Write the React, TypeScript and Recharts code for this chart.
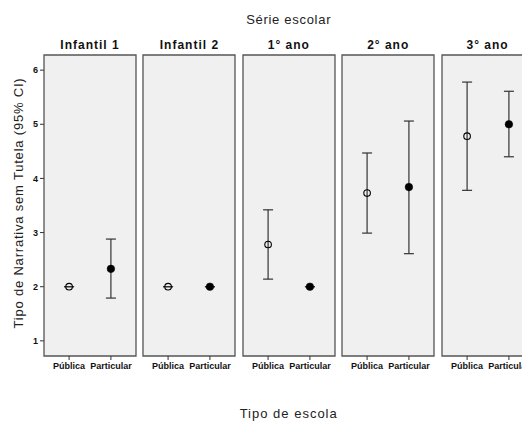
import React from 'react';
import { ScatterChart, Scatter, XAxis, YAxis, ErrorBar, ReferenceArea } from 'recharts';

const grades = ['Infantil 1', 'Infantil 2', '1° ano', '2° ano', '3° ano'];
const schoolTypes = ['Pública', 'Particular'];
const publicaMean = [2.0, 2.0, 2.78, 3.73, 4.78];
const publicaLow = [2.0, 2.0, 2.14, 2.99, 3.78];
const publicaHigh = [2.0, 2.0, 3.42, 4.47, 5.78];
const particularMean = [2.33, 2.0, 2.0, 3.84, 5.0];
const particularLow = [1.79, 2.0, 2.0, 2.61, 4.4];
const particularHigh = [2.88, 2.0, 2.0, 5.06, 5.61];
const yTicks = [1, 2, 3, 4, 5, 6];
const xTicks = [0, 1];

const FONT = '"Liberation Sans", Arial, Helvetica, sans-serif';
const Y_DOMAIN: [number, number] = [0.72, 6.28];
const X_DOMAIN: [number, number] = [-0.6, 1.6];
const PANEL_LEFT0 = 44;
const PANEL_STEP = 99.4;
const PANEL_W = 92;

function OpenDot(props: any) {
  const { cx, cy } = props;
  if (cx == null || cy == null) return null;
  return <circle cx={cx} cy={cy} r={3.3} fill="none" stroke="#000" strokeWidth={1.1} />;
}

function FilledDot(props: any) {
  const { cx, cy } = props;
  if (cx == null || cy == null) return null;
  return <circle cx={cx} cy={cy} r={3.8} fill="#000" stroke="#000" strokeWidth={0.5} />;
}

function Panel({ i }: { i: number }) {
  const first = i === 0;
  const pub = [{ x: 0, y: publicaMean[i], err: [publicaMean[i] - publicaLow[i], publicaHigh[i] - publicaMean[i]] }];
  const par = [{ x: 1, y: particularMean[i], err: [particularMean[i] - particularLow[i], particularHigh[i] - particularMean[i]] }];
  const yAxisW = first ? 44 : 0;
  const marginLeft = first ? 0 : 4;
  const width = marginLeft + yAxisW + PANEL_W + 4;
  const left = PANEL_LEFT0 + i * PANEL_STEP - yAxisW - marginLeft;
  return (
    <div style={{ position: 'absolute', left, top: 50 }}>
      <ScatterChart width={width} height={336} margin={{ top: 5, right: 4, bottom: 0, left: marginLeft }}>
        <XAxis
          type="number"
          dataKey="x"
          domain={X_DOMAIN}
          ticks={xTicks}
          allowDataOverflow
          interval={0}
          height={30}
          axisLine={false}
          tickSize={4}
          tickMargin={3}
          tickFormatter={(v: number) => schoolTypes[v]}
          tick={{ fontSize: 9, fontWeight: 700, fill: '#111', fontFamily: FONT }}
          tickLine={{ stroke: '#333' }}
        />
        <YAxis
          type="number"
          dataKey="y"
          domain={Y_DOMAIN}
          ticks={yTicks}
          allowDataOverflow
          hide={!first}
          width={44}
          axisLine={false}
          tickSize={4}
          tickMargin={2}
          tick={{ fontSize: 9, fontWeight: 700, fill: '#111', fontFamily: FONT }}
          tickLine={{ stroke: '#333' }}
        />
        <ReferenceArea
          x1={X_DOMAIN[0]}
          x2={X_DOMAIN[1]}
          y1={Y_DOMAIN[0]}
          y2={Y_DOMAIN[1]}
          fill="#f0f0f0"
          fillOpacity={1}
          stroke="#555"
          strokeWidth={1.3}
        />
        <Scatter data={pub} shape={OpenDot} isAnimationActive={false}>
          <ErrorBar dataKey="err" direction="y" width={5} stroke="#333" strokeWidth={1.2} isAnimationActive={false} />
        </Scatter>
        <Scatter data={par} shape={FilledDot} isAnimationActive={false}>
          <ErrorBar dataKey="err" direction="y" width={5} stroke="#333" strokeWidth={1.2} isAnimationActive={false} />
        </Scatter>
      </ScatterChart>
    </div>
  );
}

export default function App() {
  return (
    <div style={{ position: 'absolute', left: 0, top: 0, width: 522, height: 423, overflow: 'hidden', background: '#fff' }}>
      <svg width={522} height={423} style={{ position: 'absolute', left: 0, top: 0 }}>
        <text x={288.7} y={23.5} textAnchor="middle" fontFamily={FONT} fontSize={13} letterSpacing={0.7} fill="#222">
          Série escolar
        </text>
        {grades.map((g, i) => (
          <text
            key={g}
            x={PANEL_LEFT0 + i * PANEL_STEP + PANEL_W / 2}
            y={49}
            textAnchor="middle"
            fontFamily={FONT}
            fontSize={12}
            fontWeight={700}
            letterSpacing={1}
            fill="#111"
          >
            {g}
          </text>
        ))}
        <text x={288.7} y={418} textAnchor="middle" fontFamily={FONT} fontSize={13} letterSpacing={1} fill="#222">
          Tipo de escola
        </text>
        <text
          x={23}
          y={203}
          transform="rotate(-90 23 203)"
          textAnchor="middle"
          fontFamily={FONT}
          fontSize={13}
          letterSpacing={0.8}
          fill="#222"
        >
          Tipo de Narrativa sem Tutela (95% CI)
        </text>
      </svg>
      {grades.map((g, i) => (
        <Panel key={g} i={i} />
      ))}
    </div>
  );
}
